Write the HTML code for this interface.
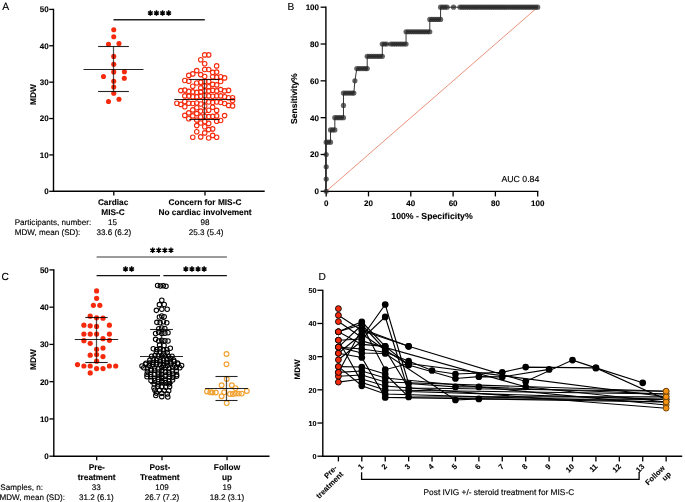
<!DOCTYPE html>
<html><head><meta charset="utf-8"><style>
html,body{margin:0;padding:0;background:#fff;}
body{width:685px;height:502px;overflow:hidden;}
svg{display:block;font-family:"Liberation Sans", sans-serif;will-change:transform;text-rendering:geometricPrecision;}
</style></head><body>
<svg width="685" height="502" viewBox="0 0 685 502">
<rect width="685" height="502" fill="#fff"/>
<text x="2.20" y="10.40" font-size="10.4" font-weight="normal" text-anchor="start" fill="#000" stroke="#000" stroke-width="0.14" >A</text>
<line x1="53.50" y1="8.80" x2="53.50" y2="192.00" stroke="#000" stroke-width="1.4" />
<line x1="49.20" y1="191.30" x2="53.50" y2="191.30" stroke="#000" stroke-width="1.3" />
<text x="48.60" y="194.15" font-size="8" font-weight="bold" text-anchor="end" fill="#000" stroke="#000" stroke-width="0.1" >0</text>
<line x1="49.20" y1="154.92" x2="53.50" y2="154.92" stroke="#000" stroke-width="1.3" />
<text x="48.60" y="157.77" font-size="8" font-weight="bold" text-anchor="end" fill="#000" stroke="#000" stroke-width="0.1" >10</text>
<line x1="49.20" y1="118.54" x2="53.50" y2="118.54" stroke="#000" stroke-width="1.3" />
<text x="48.60" y="121.39" font-size="8" font-weight="bold" text-anchor="end" fill="#000" stroke="#000" stroke-width="0.1" >20</text>
<line x1="49.20" y1="82.16" x2="53.50" y2="82.16" stroke="#000" stroke-width="1.3" />
<text x="48.60" y="85.01" font-size="8" font-weight="bold" text-anchor="end" fill="#000" stroke="#000" stroke-width="0.1" >30</text>
<line x1="49.20" y1="45.78" x2="53.50" y2="45.78" stroke="#000" stroke-width="1.3" />
<text x="48.60" y="48.63" font-size="8" font-weight="bold" text-anchor="end" fill="#000" stroke="#000" stroke-width="0.1" >40</text>
<line x1="49.20" y1="9.40" x2="53.50" y2="9.40" stroke="#000" stroke-width="1.3" />
<text x="48.60" y="12.25" font-size="8" font-weight="bold" text-anchor="end" fill="#000" stroke="#000" stroke-width="0.1" >50</text>
<line x1="52.80" y1="191.30" x2="264.70" y2="191.30" stroke="#000" stroke-width="1.4" />
<line x1="113.80" y1="191.30" x2="113.80" y2="195.40" stroke="#000" stroke-width="1.3" />
<line x1="205.00" y1="191.30" x2="205.00" y2="195.40" stroke="#000" stroke-width="1.3" />
<text x="0.00" y="0.00" font-size="8.3" font-weight="bold" text-anchor="middle" fill="#000" stroke="#000" stroke-width="0.1" transform="translate(36.1,94.6) rotate(-90)">MDW</text>
<text x="113.10" y="204.80" font-size="8.3" font-weight="bold" text-anchor="middle" fill="#000" stroke="#000" stroke-width="0.1" >Cardiac</text>
<text x="113.10" y="215.10" font-size="8.3" font-weight="bold" text-anchor="middle" fill="#000" stroke="#000" stroke-width="0.1" >MIS-C</text>
<text x="205.00" y="204.80" font-size="8.3" font-weight="bold" text-anchor="middle" fill="#000" stroke="#000" stroke-width="0.1" >Concern for MIS-C</text>
<text x="205.00" y="215.10" font-size="8.3" font-weight="bold" text-anchor="middle" fill="#000" stroke="#000" stroke-width="0.1" >No cardiac involvement</text>
<text x="14.70" y="224.60" font-size="8.1" font-weight="normal" text-anchor="start" fill="#000" stroke="#000" stroke-width="0.14" >Participants, number:</text>
<text x="14.70" y="235.00" font-size="8.1" font-weight="normal" text-anchor="start" fill="#000" stroke="#000" stroke-width="0.14" >MDW, mean (SD):</text>
<text x="112.40" y="224.60" font-size="8.1" font-weight="normal" text-anchor="middle" fill="#000" stroke="#000" stroke-width="0.14" >15</text>
<text x="113.80" y="235.00" font-size="8.1" font-weight="normal" text-anchor="middle" fill="#000" stroke="#000" stroke-width="0.14" >33.6 (6.2)</text>
<text x="205.00" y="224.60" font-size="8.1" font-weight="normal" text-anchor="middle" fill="#000" stroke="#000" stroke-width="0.14" >98</text>
<text x="206.20" y="235.00" font-size="8.1" font-weight="normal" text-anchor="middle" fill="#000" stroke="#000" stroke-width="0.14" >25.3 (5.4)</text>
<line x1="113.50" y1="19.80" x2="204.80" y2="19.80" stroke="#222" stroke-width="1.4" />
<path d="M150.35,15.65L150.35,10.15M147.97,14.28L152.73,11.53M147.97,11.53L152.73,14.28M156.45,15.65L156.45,10.15M154.07,14.28L158.83,11.53M154.07,11.53L158.83,14.28M162.55,15.65L162.55,10.15M160.17,14.28L164.93,11.53M160.17,11.53L164.93,14.28M168.65,15.65L168.65,10.15M166.27,14.28L171.03,11.53M166.27,11.53L171.03,14.28" stroke="#000" stroke-width="1.45" stroke-linecap="butt" fill="none"/>
<circle cx="150.35" cy="12.90" r="1.25" fill="#000"/>
<circle cx="156.45" cy="12.90" r="1.25" fill="#000"/>
<circle cx="162.55" cy="12.90" r="1.25" fill="#000"/>
<circle cx="168.65" cy="12.90" r="1.25" fill="#000"/>
<circle cx="113.75" cy="29.80" r="2.55" fill="#f52a0c"/>
<circle cx="113.75" cy="36.80" r="2.55" fill="#f52a0c"/>
<circle cx="108.50" cy="44.30" r="2.55" fill="#f52a0c"/>
<circle cx="119.00" cy="43.60" r="2.55" fill="#f52a0c"/>
<circle cx="113.75" cy="56.40" r="2.55" fill="#f52a0c"/>
<circle cx="113.75" cy="64.30" r="2.55" fill="#f52a0c"/>
<circle cx="113.75" cy="71.90" r="2.55" fill="#f52a0c"/>
<circle cx="124.40" cy="71.80" r="2.55" fill="#f52a0c"/>
<circle cx="103.50" cy="76.50" r="2.55" fill="#f52a0c"/>
<circle cx="124.30" cy="78.20" r="2.55" fill="#f52a0c"/>
<circle cx="113.75" cy="81.30" r="2.55" fill="#f52a0c"/>
<circle cx="113.75" cy="87.00" r="2.55" fill="#f52a0c"/>
<circle cx="113.75" cy="93.20" r="2.55" fill="#f52a0c"/>
<circle cx="108.50" cy="101.50" r="2.55" fill="#f52a0c"/>
<circle cx="119.00" cy="99.30" r="2.55" fill="#f52a0c"/>
<circle cx="204.70" cy="54.90" r="2.25" fill="none" stroke="#f52a0c" stroke-width="1.1"/>
<circle cx="208.68" cy="54.90" r="2.25" fill="none" stroke="#f52a0c" stroke-width="1.1"/>
<circle cx="200.72" cy="59.70" r="2.25" fill="none" stroke="#f52a0c" stroke-width="1.1"/>
<circle cx="204.70" cy="63.70" r="2.25" fill="none" stroke="#f52a0c" stroke-width="1.1"/>
<circle cx="216.64" cy="65.90" r="2.25" fill="none" stroke="#f52a0c" stroke-width="1.1"/>
<circle cx="204.70" cy="69.50" r="2.25" fill="none" stroke="#f52a0c" stroke-width="1.1"/>
<circle cx="208.68" cy="69.50" r="2.25" fill="none" stroke="#f52a0c" stroke-width="1.1"/>
<circle cx="196.74" cy="70.60" r="2.25" fill="none" stroke="#f52a0c" stroke-width="1.1"/>
<circle cx="192.76" cy="73.90" r="2.25" fill="none" stroke="#f52a0c" stroke-width="1.1"/>
<circle cx="188.78" cy="75.40" r="2.25" fill="none" stroke="#f52a0c" stroke-width="1.1"/>
<circle cx="200.72" cy="74.60" r="2.25" fill="none" stroke="#f52a0c" stroke-width="1.1"/>
<circle cx="212.66" cy="72.40" r="2.25" fill="none" stroke="#f52a0c" stroke-width="1.1"/>
<circle cx="216.64" cy="72.10" r="2.25" fill="none" stroke="#f52a0c" stroke-width="1.1"/>
<circle cx="212.66" cy="76.80" r="2.25" fill="none" stroke="#f52a0c" stroke-width="1.1"/>
<circle cx="216.64" cy="77.20" r="2.25" fill="none" stroke="#f52a0c" stroke-width="1.1"/>
<circle cx="224.60" cy="77.90" r="2.25" fill="none" stroke="#f52a0c" stroke-width="1.1"/>
<circle cx="184.80" cy="80.50" r="2.25" fill="none" stroke="#f52a0c" stroke-width="1.1"/>
<circle cx="188.78" cy="81.20" r="2.25" fill="none" stroke="#f52a0c" stroke-width="1.1"/>
<circle cx="196.74" cy="83.00" r="2.25" fill="none" stroke="#f52a0c" stroke-width="1.1"/>
<circle cx="200.72" cy="82.20" r="2.25" fill="none" stroke="#f52a0c" stroke-width="1.1"/>
<circle cx="192.76" cy="86.20" r="2.25" fill="none" stroke="#f52a0c" stroke-width="1.1"/>
<circle cx="200.72" cy="87.90" r="2.25" fill="none" stroke="#f52a0c" stroke-width="1.1"/>
<circle cx="180.82" cy="90.60" r="2.25" fill="none" stroke="#f52a0c" stroke-width="1.1"/>
<circle cx="184.80" cy="90.10" r="2.25" fill="none" stroke="#f52a0c" stroke-width="1.1"/>
<circle cx="188.78" cy="91.40" r="2.25" fill="none" stroke="#f52a0c" stroke-width="1.1"/>
<circle cx="192.76" cy="91.90" r="2.25" fill="none" stroke="#f52a0c" stroke-width="1.1"/>
<circle cx="196.74" cy="92.40" r="2.25" fill="none" stroke="#f52a0c" stroke-width="1.1"/>
<circle cx="200.72" cy="91.90" r="2.25" fill="none" stroke="#f52a0c" stroke-width="1.1"/>
<circle cx="184.80" cy="95.90" r="2.25" fill="none" stroke="#f52a0c" stroke-width="1.1"/>
<circle cx="188.78" cy="96.10" r="2.25" fill="none" stroke="#f52a0c" stroke-width="1.1"/>
<circle cx="192.76" cy="96.80" r="2.25" fill="none" stroke="#f52a0c" stroke-width="1.1"/>
<circle cx="196.74" cy="96.80" r="2.25" fill="none" stroke="#f52a0c" stroke-width="1.1"/>
<circle cx="200.72" cy="96.30" r="2.25" fill="none" stroke="#f52a0c" stroke-width="1.1"/>
<circle cx="220.62" cy="76.70" r="2.25" fill="none" stroke="#f52a0c" stroke-width="1.1"/>
<circle cx="208.68" cy="81.50" r="2.25" fill="none" stroke="#f52a0c" stroke-width="1.1"/>
<circle cx="212.66" cy="84.40" r="2.25" fill="none" stroke="#f52a0c" stroke-width="1.1"/>
<circle cx="216.64" cy="84.90" r="2.25" fill="none" stroke="#f52a0c" stroke-width="1.1"/>
<circle cx="220.62" cy="81.50" r="2.25" fill="none" stroke="#f52a0c" stroke-width="1.1"/>
<circle cx="208.68" cy="86.70" r="2.25" fill="none" stroke="#f52a0c" stroke-width="1.1"/>
<circle cx="212.66" cy="90.40" r="2.25" fill="none" stroke="#f52a0c" stroke-width="1.1"/>
<circle cx="216.64" cy="90.90" r="2.25" fill="none" stroke="#f52a0c" stroke-width="1.1"/>
<circle cx="220.62" cy="89.60" r="2.25" fill="none" stroke="#f52a0c" stroke-width="1.1"/>
<circle cx="224.60" cy="90.90" r="2.25" fill="none" stroke="#f52a0c" stroke-width="1.1"/>
<circle cx="228.58" cy="90.40" r="2.25" fill="none" stroke="#f52a0c" stroke-width="1.1"/>
<circle cx="208.68" cy="90.90" r="2.25" fill="none" stroke="#f52a0c" stroke-width="1.1"/>
<circle cx="204.70" cy="90.90" r="2.25" fill="none" stroke="#f52a0c" stroke-width="1.1"/>
<circle cx="208.68" cy="95.90" r="2.25" fill="none" stroke="#f52a0c" stroke-width="1.1"/>
<circle cx="212.66" cy="96.30" r="2.25" fill="none" stroke="#f52a0c" stroke-width="1.1"/>
<circle cx="216.64" cy="95.90" r="2.25" fill="none" stroke="#f52a0c" stroke-width="1.1"/>
<circle cx="220.62" cy="95.90" r="2.25" fill="none" stroke="#f52a0c" stroke-width="1.1"/>
<circle cx="224.60" cy="96.80" r="2.25" fill="none" stroke="#f52a0c" stroke-width="1.1"/>
<circle cx="228.58" cy="97.80" r="2.25" fill="none" stroke="#f52a0c" stroke-width="1.1"/>
<circle cx="232.56" cy="97.80" r="2.25" fill="none" stroke="#f52a0c" stroke-width="1.1"/>
<circle cx="176.84" cy="103.20" r="2.25" fill="none" stroke="#f52a0c" stroke-width="1.1"/>
<circle cx="180.82" cy="104.40" r="2.25" fill="none" stroke="#f52a0c" stroke-width="1.1"/>
<circle cx="184.80" cy="101.50" r="2.25" fill="none" stroke="#f52a0c" stroke-width="1.1"/>
<circle cx="188.78" cy="103.20" r="2.25" fill="none" stroke="#f52a0c" stroke-width="1.1"/>
<circle cx="192.76" cy="103.50" r="2.25" fill="none" stroke="#f52a0c" stroke-width="1.1"/>
<circle cx="196.74" cy="103.00" r="2.25" fill="none" stroke="#f52a0c" stroke-width="1.1"/>
<circle cx="200.72" cy="104.00" r="2.25" fill="none" stroke="#f52a0c" stroke-width="1.1"/>
<circle cx="184.80" cy="106.70" r="2.25" fill="none" stroke="#f52a0c" stroke-width="1.1"/>
<circle cx="192.76" cy="109.90" r="2.25" fill="none" stroke="#f52a0c" stroke-width="1.1"/>
<circle cx="196.74" cy="107.70" r="2.25" fill="none" stroke="#f52a0c" stroke-width="1.1"/>
<circle cx="200.72" cy="111.10" r="2.25" fill="none" stroke="#f52a0c" stroke-width="1.1"/>
<circle cx="188.78" cy="112.90" r="2.25" fill="none" stroke="#f52a0c" stroke-width="1.1"/>
<circle cx="184.80" cy="115.40" r="2.25" fill="none" stroke="#f52a0c" stroke-width="1.1"/>
<circle cx="192.76" cy="115.90" r="2.25" fill="none" stroke="#f52a0c" stroke-width="1.1"/>
<circle cx="196.74" cy="113.60" r="2.25" fill="none" stroke="#f52a0c" stroke-width="1.1"/>
<circle cx="200.72" cy="116.90" r="2.25" fill="none" stroke="#f52a0c" stroke-width="1.1"/>
<circle cx="188.78" cy="118.80" r="2.25" fill="none" stroke="#f52a0c" stroke-width="1.1"/>
<circle cx="208.68" cy="102.00" r="2.25" fill="none" stroke="#f52a0c" stroke-width="1.1"/>
<circle cx="212.66" cy="102.50" r="2.25" fill="none" stroke="#f52a0c" stroke-width="1.1"/>
<circle cx="216.64" cy="102.00" r="2.25" fill="none" stroke="#f52a0c" stroke-width="1.1"/>
<circle cx="220.62" cy="102.50" r="2.25" fill="none" stroke="#f52a0c" stroke-width="1.1"/>
<circle cx="224.60" cy="103.50" r="2.25" fill="none" stroke="#f52a0c" stroke-width="1.1"/>
<circle cx="228.58" cy="105.40" r="2.25" fill="none" stroke="#f52a0c" stroke-width="1.1"/>
<circle cx="232.56" cy="105.90" r="2.25" fill="none" stroke="#f52a0c" stroke-width="1.1"/>
<circle cx="232.56" cy="100.50" r="2.25" fill="none" stroke="#f52a0c" stroke-width="1.1"/>
<circle cx="212.66" cy="107.20" r="2.25" fill="none" stroke="#f52a0c" stroke-width="1.1"/>
<circle cx="208.68" cy="110.20" r="2.25" fill="none" stroke="#f52a0c" stroke-width="1.1"/>
<circle cx="216.64" cy="110.40" r="2.25" fill="none" stroke="#f52a0c" stroke-width="1.1"/>
<circle cx="208.68" cy="116.60" r="2.25" fill="none" stroke="#f52a0c" stroke-width="1.1"/>
<circle cx="212.66" cy="116.40" r="2.25" fill="none" stroke="#f52a0c" stroke-width="1.1"/>
<circle cx="216.64" cy="115.90" r="2.25" fill="none" stroke="#f52a0c" stroke-width="1.1"/>
<circle cx="224.60" cy="115.60" r="2.25" fill="none" stroke="#f52a0c" stroke-width="1.1"/>
<circle cx="196.74" cy="120.10" r="2.25" fill="none" stroke="#f52a0c" stroke-width="1.1"/>
<circle cx="216.64" cy="121.20" r="2.25" fill="none" stroke="#f52a0c" stroke-width="1.1"/>
<circle cx="220.62" cy="120.50" r="2.25" fill="none" stroke="#f52a0c" stroke-width="1.1"/>
<circle cx="200.72" cy="123.00" r="2.25" fill="none" stroke="#f52a0c" stroke-width="1.1"/>
<circle cx="208.68" cy="123.40" r="2.25" fill="none" stroke="#f52a0c" stroke-width="1.1"/>
<circle cx="196.74" cy="125.60" r="2.25" fill="none" stroke="#f52a0c" stroke-width="1.1"/>
<circle cx="204.70" cy="126.70" r="2.25" fill="none" stroke="#f52a0c" stroke-width="1.1"/>
<circle cx="208.68" cy="129.60" r="2.25" fill="none" stroke="#f52a0c" stroke-width="1.1"/>
<circle cx="212.66" cy="128.90" r="2.25" fill="none" stroke="#f52a0c" stroke-width="1.1"/>
<circle cx="196.74" cy="131.80" r="2.25" fill="none" stroke="#f52a0c" stroke-width="1.1"/>
<circle cx="204.70" cy="132.90" r="2.25" fill="none" stroke="#f52a0c" stroke-width="1.1"/>
<circle cx="212.66" cy="135.40" r="2.25" fill="none" stroke="#f52a0c" stroke-width="1.1"/>
<circle cx="192.76" cy="137.30" r="2.25" fill="none" stroke="#f52a0c" stroke-width="1.1"/>
<circle cx="200.72" cy="136.90" r="2.25" fill="none" stroke="#f52a0c" stroke-width="1.1"/>
<circle cx="208.68" cy="138.00" r="2.25" fill="none" stroke="#f52a0c" stroke-width="1.1"/>
<circle cx="216.64" cy="137.30" r="2.25" fill="none" stroke="#f52a0c" stroke-width="1.1"/>
<circle cx="204.70" cy="76.50" r="2.25" fill="none" stroke="#f52a0c" stroke-width="1.1"/>
<circle cx="204.70" cy="81.50" r="2.25" fill="none" stroke="#f52a0c" stroke-width="1.1"/>
<circle cx="204.70" cy="86.00" r="2.25" fill="none" stroke="#f52a0c" stroke-width="1.1"/>
<circle cx="204.70" cy="95.80" r="2.25" fill="none" stroke="#f52a0c" stroke-width="1.1"/>
<circle cx="204.70" cy="101.00" r="2.25" fill="none" stroke="#f52a0c" stroke-width="1.1"/>
<circle cx="204.70" cy="106.00" r="2.25" fill="none" stroke="#f52a0c" stroke-width="1.1"/>
<circle cx="204.70" cy="111.00" r="2.25" fill="none" stroke="#f52a0c" stroke-width="1.1"/>
<circle cx="204.70" cy="116.30" r="2.25" fill="none" stroke="#f52a0c" stroke-width="1.1"/>
<circle cx="204.70" cy="121.50" r="2.25" fill="none" stroke="#f52a0c" stroke-width="1.1"/>
<line x1="113.50" y1="46.50" x2="113.50" y2="91.50" stroke="rgba(0,0,0,0.68)" stroke-width="1.25" />
<line x1="83.50" y1="69.50" x2="143.50" y2="69.50" stroke="rgba(0,0,0,0.85)" stroke-width="1.1" />
<line x1="98.10" y1="46.50" x2="128.90" y2="46.50" stroke="rgba(0,0,0,0.85)" stroke-width="1.1" />
<line x1="98.10" y1="91.50" x2="128.90" y2="91.50" stroke="rgba(0,0,0,0.85)" stroke-width="1.1" />
<line x1="204.50" y1="79.50" x2="204.50" y2="119.50" stroke="rgba(0,0,0,0.68)" stroke-width="1.25" />
<line x1="174.30" y1="99.50" x2="234.70" y2="99.50" stroke="rgba(0,0,0,0.85)" stroke-width="1.1" />
<line x1="189.30" y1="79.50" x2="219.70" y2="79.50" stroke="rgba(0,0,0,0.85)" stroke-width="1.1" />
<line x1="189.30" y1="119.50" x2="219.70" y2="119.50" stroke="rgba(0,0,0,0.85)" stroke-width="1.1" />
<text x="287.40" y="10.00" font-size="10.2" font-weight="normal" text-anchor="start" fill="#000" stroke="#000" stroke-width="0.14" >B</text>
<line x1="325.90" y1="6.60" x2="325.90" y2="192.00" stroke="#000" stroke-width="1.4" />
<line x1="320.60" y1="191.30" x2="325.90" y2="191.30" stroke="#000" stroke-width="1.3" />
<text x="319.00" y="194.15" font-size="8" font-weight="bold" text-anchor="end" fill="#000" stroke="#000" stroke-width="0.1" >0</text>
<line x1="320.60" y1="154.48" x2="325.90" y2="154.48" stroke="#000" stroke-width="1.3" />
<text x="319.00" y="157.33" font-size="8" font-weight="bold" text-anchor="end" fill="#000" stroke="#000" stroke-width="0.1" >20</text>
<line x1="320.60" y1="117.66" x2="325.90" y2="117.66" stroke="#000" stroke-width="1.3" />
<text x="319.00" y="120.51" font-size="8" font-weight="bold" text-anchor="end" fill="#000" stroke="#000" stroke-width="0.1" >40</text>
<line x1="320.60" y1="80.84" x2="325.90" y2="80.84" stroke="#000" stroke-width="1.3" />
<text x="319.00" y="83.69" font-size="8" font-weight="bold" text-anchor="end" fill="#000" stroke="#000" stroke-width="0.1" >60</text>
<line x1="320.60" y1="44.02" x2="325.90" y2="44.02" stroke="#000" stroke-width="1.3" />
<text x="319.00" y="46.87" font-size="8" font-weight="bold" text-anchor="end" fill="#000" stroke="#000" stroke-width="0.1" >80</text>
<line x1="320.60" y1="7.20" x2="325.90" y2="7.20" stroke="#000" stroke-width="1.3" />
<text x="319.00" y="10.05" font-size="8" font-weight="bold" text-anchor="end" fill="#000" stroke="#000" stroke-width="0.1" >100</text>
<line x1="325.20" y1="191.40" x2="538.40" y2="191.40" stroke="#000" stroke-width="1.4" />
<line x1="326.20" y1="191.40" x2="326.20" y2="196.40" stroke="#000" stroke-width="1.3" />
<text x="326.20" y="206.00" font-size="8" font-weight="bold" text-anchor="middle" fill="#000" stroke="#000" stroke-width="0.1" >0</text>
<line x1="368.50" y1="191.40" x2="368.50" y2="196.40" stroke="#000" stroke-width="1.3" />
<text x="368.50" y="206.00" font-size="8" font-weight="bold" text-anchor="middle" fill="#000" stroke="#000" stroke-width="0.1" >20</text>
<line x1="410.80" y1="191.40" x2="410.80" y2="196.40" stroke="#000" stroke-width="1.3" />
<text x="410.80" y="206.00" font-size="8" font-weight="bold" text-anchor="middle" fill="#000" stroke="#000" stroke-width="0.1" >40</text>
<line x1="453.10" y1="191.40" x2="453.10" y2="196.40" stroke="#000" stroke-width="1.3" />
<text x="453.10" y="206.00" font-size="8" font-weight="bold" text-anchor="middle" fill="#000" stroke="#000" stroke-width="0.1" >60</text>
<line x1="495.40" y1="191.40" x2="495.40" y2="196.40" stroke="#000" stroke-width="1.3" />
<text x="495.40" y="206.00" font-size="8" font-weight="bold" text-anchor="middle" fill="#000" stroke="#000" stroke-width="0.1" >80</text>
<line x1="537.70" y1="191.40" x2="537.70" y2="196.40" stroke="#000" stroke-width="1.3" />
<text x="537.70" y="206.00" font-size="8" font-weight="bold" text-anchor="middle" fill="#000" stroke="#000" stroke-width="0.1" >100</text>
<text x="432.00" y="218.60" font-size="8.72" font-weight="bold" text-anchor="middle" fill="#000" stroke="#000" stroke-width="0.1" >100% - Specificity%</text>
<text x="0.00" y="0.00" font-size="8.6" font-weight="bold" text-anchor="middle" fill="#000" stroke="#000" stroke-width="0.1" transform="translate(296.8,98.6) rotate(-90)">Sensitivity%</text>
<text x="501.40" y="182.20" font-size="8.75" font-weight="normal" text-anchor="start" fill="#000" stroke="#000" stroke-width="0.14" >AUC 0.84</text>
<line x1="326.20" y1="191.30" x2="537.70" y2="7.20" stroke="#e8846c" stroke-width="0.9" />
<path d="M326.20,191.30 L326.20,179.03 L326.20,166.75 L326.20,154.48 L326.20,142.21 L330.52,142.21 L330.52,129.93 L334.83,129.93 L334.83,117.66 L343.47,117.66 L343.47,105.39 L343.47,93.11 L353.82,93.11 L354.90,80.84 L356.85,68.57 L367.21,68.57 L367.21,56.29 L382.31,56.29 L382.31,44.02 L406.05,44.02 L406.05,31.75 L429.79,31.75 L429.79,19.47 L440.58,19.47 L440.58,7.20 L537.70,7.20" fill="none" stroke="#333" stroke-width="1.0"/>
<circle cx="326.20" cy="191.30" r="2.6" fill="rgba(40,40,40,0.72)"/>
<circle cx="326.20" cy="179.03" r="2.6" fill="rgba(40,40,40,0.72)"/>
<circle cx="326.20" cy="166.75" r="2.6" fill="rgba(40,40,40,0.72)"/>
<circle cx="326.20" cy="154.48" r="2.6" fill="rgba(40,40,40,0.72)"/>
<circle cx="326.20" cy="142.21" r="2.6" fill="rgba(40,40,40,0.72)"/>
<circle cx="328.36" cy="142.21" r="2.6" fill="rgba(40,40,40,0.72)"/>
<circle cx="330.52" cy="142.21" r="2.6" fill="rgba(40,40,40,0.72)"/>
<circle cx="330.52" cy="129.93" r="2.6" fill="rgba(40,40,40,0.72)"/>
<circle cx="332.67" cy="129.93" r="2.6" fill="rgba(40,40,40,0.72)"/>
<circle cx="334.83" cy="129.93" r="2.6" fill="rgba(40,40,40,0.72)"/>
<circle cx="334.83" cy="117.66" r="2.6" fill="rgba(40,40,40,0.72)"/>
<circle cx="336.99" cy="117.66" r="2.6" fill="rgba(40,40,40,0.72)"/>
<circle cx="339.15" cy="117.66" r="2.6" fill="rgba(40,40,40,0.72)"/>
<circle cx="341.31" cy="117.66" r="2.6" fill="rgba(40,40,40,0.72)"/>
<circle cx="343.47" cy="117.66" r="2.6" fill="rgba(40,40,40,0.72)"/>
<circle cx="343.47" cy="105.39" r="2.6" fill="rgba(40,40,40,0.72)"/>
<circle cx="343.47" cy="93.11" r="2.6" fill="rgba(40,40,40,0.72)"/>
<circle cx="345.62" cy="93.11" r="2.6" fill="rgba(40,40,40,0.72)"/>
<circle cx="347.78" cy="93.11" r="2.6" fill="rgba(40,40,40,0.72)"/>
<circle cx="349.94" cy="93.11" r="2.6" fill="rgba(40,40,40,0.72)"/>
<circle cx="352.10" cy="93.11" r="2.6" fill="rgba(40,40,40,0.72)"/>
<circle cx="353.82" cy="93.11" r="2.6" fill="rgba(40,40,40,0.72)"/>
<circle cx="354.90" cy="80.84" r="2.6" fill="rgba(40,40,40,0.72)"/>
<circle cx="356.85" cy="68.57" r="2.6" fill="rgba(40,40,40,0.72)"/>
<circle cx="359.00" cy="68.57" r="2.6" fill="rgba(40,40,40,0.72)"/>
<circle cx="361.16" cy="68.57" r="2.6" fill="rgba(40,40,40,0.72)"/>
<circle cx="363.32" cy="68.57" r="2.6" fill="rgba(40,40,40,0.72)"/>
<circle cx="365.48" cy="68.57" r="2.6" fill="rgba(40,40,40,0.72)"/>
<circle cx="367.21" cy="68.57" r="2.6" fill="rgba(40,40,40,0.72)"/>
<circle cx="367.21" cy="56.29" r="2.6" fill="rgba(40,40,40,0.72)"/>
<circle cx="369.36" cy="56.29" r="2.6" fill="rgba(40,40,40,0.72)"/>
<circle cx="371.52" cy="56.29" r="2.6" fill="rgba(40,40,40,0.72)"/>
<circle cx="373.68" cy="56.29" r="2.6" fill="rgba(40,40,40,0.72)"/>
<circle cx="375.84" cy="56.29" r="2.6" fill="rgba(40,40,40,0.72)"/>
<circle cx="378.00" cy="56.29" r="2.6" fill="rgba(40,40,40,0.72)"/>
<circle cx="380.15" cy="56.29" r="2.6" fill="rgba(40,40,40,0.72)"/>
<circle cx="382.31" cy="56.29" r="2.6" fill="rgba(40,40,40,0.72)"/>
<circle cx="382.31" cy="44.02" r="2.6" fill="rgba(40,40,40,0.72)"/>
<circle cx="384.47" cy="44.02" r="2.6" fill="rgba(40,40,40,0.72)"/>
<circle cx="386.63" cy="44.02" r="2.6" fill="rgba(40,40,40,0.72)"/>
<circle cx="390.94" cy="44.02" r="2.6" fill="rgba(40,40,40,0.72)"/>
<circle cx="393.10" cy="44.02" r="2.6" fill="rgba(40,40,40,0.72)"/>
<circle cx="395.26" cy="44.02" r="2.6" fill="rgba(40,40,40,0.72)"/>
<circle cx="397.42" cy="44.02" r="2.6" fill="rgba(40,40,40,0.72)"/>
<circle cx="399.58" cy="44.02" r="2.6" fill="rgba(40,40,40,0.72)"/>
<circle cx="401.74" cy="44.02" r="2.6" fill="rgba(40,40,40,0.72)"/>
<circle cx="403.89" cy="44.02" r="2.6" fill="rgba(40,40,40,0.72)"/>
<circle cx="406.05" cy="44.02" r="2.6" fill="rgba(40,40,40,0.72)"/>
<circle cx="406.05" cy="31.75" r="2.6" fill="rgba(40,40,40,0.72)"/>
<circle cx="408.21" cy="31.75" r="2.6" fill="rgba(40,40,40,0.72)"/>
<circle cx="410.37" cy="31.75" r="2.6" fill="rgba(40,40,40,0.72)"/>
<circle cx="412.53" cy="31.75" r="2.6" fill="rgba(40,40,40,0.72)"/>
<circle cx="414.68" cy="31.75" r="2.6" fill="rgba(40,40,40,0.72)"/>
<circle cx="416.84" cy="31.75" r="2.6" fill="rgba(40,40,40,0.72)"/>
<circle cx="419.00" cy="31.75" r="2.6" fill="rgba(40,40,40,0.72)"/>
<circle cx="421.16" cy="31.75" r="2.6" fill="rgba(40,40,40,0.72)"/>
<circle cx="423.32" cy="31.75" r="2.6" fill="rgba(40,40,40,0.72)"/>
<circle cx="425.48" cy="31.75" r="2.6" fill="rgba(40,40,40,0.72)"/>
<circle cx="427.63" cy="31.75" r="2.6" fill="rgba(40,40,40,0.72)"/>
<circle cx="429.79" cy="31.75" r="2.6" fill="rgba(40,40,40,0.72)"/>
<circle cx="429.79" cy="19.47" r="2.6" fill="rgba(40,40,40,0.72)"/>
<circle cx="431.95" cy="19.47" r="2.6" fill="rgba(40,40,40,0.72)"/>
<circle cx="434.11" cy="19.47" r="2.6" fill="rgba(40,40,40,0.72)"/>
<circle cx="436.27" cy="19.47" r="2.6" fill="rgba(40,40,40,0.72)"/>
<circle cx="438.42" cy="19.47" r="2.6" fill="rgba(40,40,40,0.72)"/>
<circle cx="440.58" cy="19.47" r="2.6" fill="rgba(40,40,40,0.72)"/>
<circle cx="440.58" cy="7.20" r="2.6" fill="rgba(40,40,40,0.72)"/>
<circle cx="442.74" cy="7.20" r="2.6" fill="rgba(40,40,40,0.72)"/>
<circle cx="444.90" cy="7.20" r="2.6" fill="rgba(40,40,40,0.72)"/>
<circle cx="447.06" cy="7.20" r="2.6" fill="rgba(40,40,40,0.72)"/>
<circle cx="453.53" cy="7.20" r="2.6" fill="rgba(40,40,40,0.72)"/>
<circle cx="460.01" cy="7.20" r="2.6" fill="rgba(40,40,40,0.72)"/>
<circle cx="462.16" cy="7.20" r="2.6" fill="rgba(40,40,40,0.72)"/>
<circle cx="464.32" cy="7.20" r="2.6" fill="rgba(40,40,40,0.72)"/>
<circle cx="466.48" cy="7.20" r="2.6" fill="rgba(40,40,40,0.72)"/>
<circle cx="468.64" cy="7.20" r="2.6" fill="rgba(40,40,40,0.72)"/>
<circle cx="470.80" cy="7.20" r="2.6" fill="rgba(40,40,40,0.72)"/>
<circle cx="472.96" cy="7.20" r="2.6" fill="rgba(40,40,40,0.72)"/>
<circle cx="475.11" cy="7.20" r="2.6" fill="rgba(40,40,40,0.72)"/>
<circle cx="477.27" cy="7.20" r="2.6" fill="rgba(40,40,40,0.72)"/>
<circle cx="479.43" cy="7.20" r="2.6" fill="rgba(40,40,40,0.72)"/>
<circle cx="481.59" cy="7.20" r="2.6" fill="rgba(40,40,40,0.72)"/>
<circle cx="483.75" cy="7.20" r="2.6" fill="rgba(40,40,40,0.72)"/>
<circle cx="485.90" cy="7.20" r="2.6" fill="rgba(40,40,40,0.72)"/>
<circle cx="488.06" cy="7.20" r="2.6" fill="rgba(40,40,40,0.72)"/>
<circle cx="490.22" cy="7.20" r="2.6" fill="rgba(40,40,40,0.72)"/>
<circle cx="492.38" cy="7.20" r="2.6" fill="rgba(40,40,40,0.72)"/>
<circle cx="494.54" cy="7.20" r="2.6" fill="rgba(40,40,40,0.72)"/>
<circle cx="496.69" cy="7.20" r="2.6" fill="rgba(40,40,40,0.72)"/>
<circle cx="498.85" cy="7.20" r="2.6" fill="rgba(40,40,40,0.72)"/>
<circle cx="501.01" cy="7.20" r="2.6" fill="rgba(40,40,40,0.72)"/>
<circle cx="503.17" cy="7.20" r="2.6" fill="rgba(40,40,40,0.72)"/>
<circle cx="505.33" cy="7.20" r="2.6" fill="rgba(40,40,40,0.72)"/>
<circle cx="507.49" cy="7.20" r="2.6" fill="rgba(40,40,40,0.72)"/>
<circle cx="509.64" cy="7.20" r="2.6" fill="rgba(40,40,40,0.72)"/>
<circle cx="511.80" cy="7.20" r="2.6" fill="rgba(40,40,40,0.72)"/>
<circle cx="513.96" cy="7.20" r="2.6" fill="rgba(40,40,40,0.72)"/>
<circle cx="516.12" cy="7.20" r="2.6" fill="rgba(40,40,40,0.72)"/>
<circle cx="518.28" cy="7.20" r="2.6" fill="rgba(40,40,40,0.72)"/>
<circle cx="520.43" cy="7.20" r="2.6" fill="rgba(40,40,40,0.72)"/>
<circle cx="522.59" cy="7.20" r="2.6" fill="rgba(40,40,40,0.72)"/>
<circle cx="524.75" cy="7.20" r="2.6" fill="rgba(40,40,40,0.72)"/>
<circle cx="526.91" cy="7.20" r="2.6" fill="rgba(40,40,40,0.72)"/>
<circle cx="529.07" cy="7.20" r="2.6" fill="rgba(40,40,40,0.72)"/>
<circle cx="531.23" cy="7.20" r="2.6" fill="rgba(40,40,40,0.72)"/>
<circle cx="533.38" cy="7.20" r="2.6" fill="rgba(40,40,40,0.72)"/>
<circle cx="535.54" cy="7.20" r="2.6" fill="rgba(40,40,40,0.72)"/>
<circle cx="537.70" cy="7.20" r="2.6" fill="rgba(40,40,40,0.72)"/>
<text x="1.60" y="280.00" font-size="10.2" font-weight="normal" text-anchor="start" fill="#000" stroke="#000" stroke-width="0.14" >C</text>
<line x1="53.80" y1="269.30" x2="53.80" y2="456.90" stroke="#000" stroke-width="1.4" />
<line x1="49.40" y1="456.20" x2="53.80" y2="456.20" stroke="#000" stroke-width="1.3" />
<text x="48.80" y="459.05" font-size="8" font-weight="bold" text-anchor="end" fill="#000" stroke="#000" stroke-width="0.1" >0</text>
<line x1="49.40" y1="418.94" x2="53.80" y2="418.94" stroke="#000" stroke-width="1.3" />
<text x="48.80" y="421.79" font-size="8" font-weight="bold" text-anchor="end" fill="#000" stroke="#000" stroke-width="0.1" >10</text>
<line x1="49.40" y1="381.68" x2="53.80" y2="381.68" stroke="#000" stroke-width="1.3" />
<text x="48.80" y="384.53" font-size="8" font-weight="bold" text-anchor="end" fill="#000" stroke="#000" stroke-width="0.1" >20</text>
<line x1="49.40" y1="344.42" x2="53.80" y2="344.42" stroke="#000" stroke-width="1.3" />
<text x="48.80" y="347.27" font-size="8" font-weight="bold" text-anchor="end" fill="#000" stroke="#000" stroke-width="0.1" >30</text>
<line x1="49.40" y1="307.16" x2="53.80" y2="307.16" stroke="#000" stroke-width="1.3" />
<text x="48.80" y="310.01" font-size="8" font-weight="bold" text-anchor="end" fill="#000" stroke="#000" stroke-width="0.1" >40</text>
<line x1="49.40" y1="269.90" x2="53.80" y2="269.90" stroke="#000" stroke-width="1.3" />
<text x="48.80" y="272.75" font-size="8" font-weight="bold" text-anchor="end" fill="#000" stroke="#000" stroke-width="0.1" >50</text>
<line x1="53.10" y1="456.20" x2="269.50" y2="456.20" stroke="#000" stroke-width="1.4" />
<line x1="96.70" y1="456.20" x2="96.70" y2="460.30" stroke="#000" stroke-width="1.3" />
<line x1="162.00" y1="456.20" x2="162.00" y2="460.30" stroke="#000" stroke-width="1.3" />
<line x1="227.00" y1="456.20" x2="227.00" y2="460.30" stroke="#000" stroke-width="1.3" />
<text x="0.00" y="0.00" font-size="8.3" font-weight="bold" text-anchor="middle" fill="#000" stroke="#000" stroke-width="0.1" transform="translate(36.0,359.6) rotate(-90)">MDW</text>
<text x="96.70" y="470.30" font-size="8.3" font-weight="bold" text-anchor="middle" fill="#000" stroke="#000" stroke-width="0.1" >Pre-</text>
<text x="96.70" y="479.80" font-size="8.3" font-weight="bold" text-anchor="middle" fill="#000" stroke="#000" stroke-width="0.1" >treatment</text>
<text x="159.80" y="470.30" font-size="8.3" font-weight="bold" text-anchor="middle" fill="#000" stroke="#000" stroke-width="0.1" >Post-</text>
<text x="159.80" y="479.80" font-size="8.3" font-weight="bold" text-anchor="middle" fill="#000" stroke="#000" stroke-width="0.1" >Treatment</text>
<text x="227.00" y="470.30" font-size="8.3" font-weight="bold" text-anchor="middle" fill="#000" stroke="#000" stroke-width="0.1" >Follow</text>
<text x="227.00" y="479.80" font-size="8.3" font-weight="bold" text-anchor="middle" fill="#000" stroke="#000" stroke-width="0.1" >up</text>
<text x="0.30" y="489.90" font-size="8.1" font-weight="normal" text-anchor="start" fill="#000" stroke="#000" stroke-width="0.14" >Samples, n:</text>
<text x="-0.60" y="500.20" font-size="8.1" font-weight="normal" text-anchor="start" fill="#000" stroke="#000" stroke-width="0.14" >MDW, mean (SD):</text>
<text x="96.30" y="489.90" font-size="8.1" font-weight="normal" text-anchor="middle" fill="#000" stroke="#000" stroke-width="0.14" >33</text>
<text x="96.30" y="500.20" font-size="8.1" font-weight="normal" text-anchor="middle" fill="#000" stroke="#000" stroke-width="0.14" >31.2 (6.1)</text>
<text x="162.00" y="489.90" font-size="8.1" font-weight="normal" text-anchor="middle" fill="#000" stroke="#000" stroke-width="0.14" >109</text>
<text x="162.00" y="500.20" font-size="8.1" font-weight="normal" text-anchor="middle" fill="#000" stroke="#000" stroke-width="0.14" >26.7 (7.2)</text>
<text x="227.00" y="489.90" font-size="8.1" font-weight="normal" text-anchor="middle" fill="#000" stroke="#000" stroke-width="0.14" >19</text>
<text x="227.00" y="500.20" font-size="8.1" font-weight="normal" text-anchor="middle" fill="#000" stroke="#000" stroke-width="0.14" >18.2 (3.1)</text>
<line x1="96.60" y1="257.00" x2="226.90" y2="257.00" stroke="#7a7a7a" stroke-width="1.6" />
<path d="M152.65,253.05L152.65,247.55M150.27,251.68L155.03,248.93M150.27,248.93L155.03,251.68M158.75,253.05L158.75,247.55M156.37,251.68L161.13,248.93M156.37,248.93L161.13,251.68M164.85,253.05L164.85,247.55M162.47,251.68L167.23,248.93M162.47,248.93L167.23,251.68M170.95,253.05L170.95,247.55M168.57,251.68L173.33,248.93M168.57,248.93L173.33,251.68" stroke="#000" stroke-width="1.45" stroke-linecap="butt" fill="none"/>
<circle cx="152.65" cy="250.30" r="1.25" fill="#000"/>
<circle cx="158.75" cy="250.30" r="1.25" fill="#000"/>
<circle cx="164.85" cy="250.30" r="1.25" fill="#000"/>
<circle cx="170.95" cy="250.30" r="1.25" fill="#000"/>
<line x1="96.60" y1="275.50" x2="160.00" y2="275.50" stroke="#111" stroke-width="1.25" />
<line x1="163.40" y1="275.50" x2="226.90" y2="275.50" stroke="#111" stroke-width="1.25" />
<path d="M125.55,271.75L125.55,266.25M123.17,270.38L127.93,267.62M123.17,267.62L127.93,270.38M131.65,271.75L131.65,266.25M129.27,270.38L134.03,267.62M129.27,267.62L134.03,270.38" stroke="#000" stroke-width="1.45" stroke-linecap="butt" fill="none"/>
<circle cx="125.55" cy="269.00" r="1.25" fill="#000"/>
<circle cx="131.65" cy="269.00" r="1.25" fill="#000"/>
<path d="M185.85,271.75L185.85,266.25M183.47,270.38L188.23,267.62M183.47,267.62L188.23,270.38M191.95,271.75L191.95,266.25M189.57,270.38L194.33,267.62M189.57,267.62L194.33,270.38M198.05,271.75L198.05,266.25M195.67,270.38L200.43,267.62M195.67,267.62L200.43,270.38M204.15,271.75L204.15,266.25M201.77,270.38L206.53,267.62M201.77,267.62L206.53,270.38" stroke="#000" stroke-width="1.45" stroke-linecap="butt" fill="none"/>
<circle cx="185.85" cy="269.00" r="1.25" fill="#000"/>
<circle cx="191.95" cy="269.00" r="1.25" fill="#000"/>
<circle cx="198.05" cy="269.00" r="1.25" fill="#000"/>
<circle cx="204.15" cy="269.00" r="1.25" fill="#000"/>
<circle cx="96.60" cy="290.90" r="2.6" fill="#f52a0c"/>
<circle cx="96.60" cy="298.30" r="2.6" fill="#f52a0c"/>
<circle cx="93.40" cy="305.30" r="2.6" fill="#f52a0c"/>
<circle cx="99.80" cy="305.30" r="2.6" fill="#f52a0c"/>
<circle cx="90.20" cy="316.20" r="2.6" fill="#f52a0c"/>
<circle cx="96.60" cy="317.80" r="2.6" fill="#f52a0c"/>
<circle cx="103.00" cy="318.20" r="2.6" fill="#f52a0c"/>
<circle cx="83.90" cy="325.20" r="2.6" fill="#f52a0c"/>
<circle cx="90.20" cy="325.80" r="2.6" fill="#f52a0c"/>
<circle cx="96.60" cy="326.40" r="2.6" fill="#f52a0c"/>
<circle cx="109.40" cy="325.20" r="2.6" fill="#f52a0c"/>
<circle cx="83.90" cy="334.10" r="2.6" fill="#f52a0c"/>
<circle cx="90.20" cy="334.10" r="2.6" fill="#f52a0c"/>
<circle cx="96.60" cy="334.10" r="2.6" fill="#f52a0c"/>
<circle cx="109.40" cy="334.10" r="2.6" fill="#f52a0c"/>
<circle cx="83.90" cy="340.70" r="2.6" fill="#f52a0c"/>
<circle cx="103.00" cy="338.70" r="2.6" fill="#f52a0c"/>
<circle cx="109.40" cy="340.30" r="2.6" fill="#f52a0c"/>
<circle cx="90.20" cy="343.30" r="2.6" fill="#f52a0c"/>
<circle cx="96.60" cy="349.30" r="2.6" fill="#f52a0c"/>
<circle cx="103.00" cy="348.10" r="2.6" fill="#f52a0c"/>
<circle cx="90.20" cy="355.20" r="2.6" fill="#f52a0c"/>
<circle cx="96.60" cy="354.60" r="2.6" fill="#f52a0c"/>
<circle cx="103.00" cy="356.60" r="2.6" fill="#f52a0c"/>
<circle cx="96.60" cy="361.20" r="2.6" fill="#f52a0c"/>
<circle cx="77.50" cy="364.60" r="2.6" fill="#f52a0c"/>
<circle cx="83.90" cy="366.00" r="2.6" fill="#f52a0c"/>
<circle cx="90.20" cy="366.00" r="2.6" fill="#f52a0c"/>
<circle cx="109.40" cy="366.00" r="2.6" fill="#f52a0c"/>
<circle cx="115.70" cy="366.00" r="2.6" fill="#f52a0c"/>
<circle cx="96.60" cy="368.60" r="2.6" fill="#f52a0c"/>
<circle cx="103.00" cy="368.60" r="2.6" fill="#f52a0c"/>
<circle cx="90.20" cy="372.90" r="2.6" fill="#f52a0c"/>
<circle cx="157.60" cy="285.48" r="2.25" fill="none" stroke="#000" stroke-width="1.05"/>
<circle cx="160.40" cy="286.09" r="2.25" fill="none" stroke="#000" stroke-width="1.05"/>
<circle cx="163.20" cy="285.74" r="2.25" fill="none" stroke="#000" stroke-width="1.05"/>
<circle cx="166.00" cy="286.21" r="2.25" fill="none" stroke="#000" stroke-width="1.05"/>
<circle cx="161.80" cy="300.15" r="2.25" fill="none" stroke="#000" stroke-width="1.05"/>
<circle cx="159.40" cy="304.63" r="2.25" fill="none" stroke="#000" stroke-width="1.05"/>
<circle cx="164.20" cy="304.53" r="2.25" fill="none" stroke="#000" stroke-width="1.05"/>
<circle cx="156.40" cy="310.37" r="2.25" fill="none" stroke="#000" stroke-width="1.05"/>
<circle cx="161.80" cy="309.22" r="2.25" fill="none" stroke="#000" stroke-width="1.05"/>
<circle cx="167.20" cy="309.17" r="2.25" fill="none" stroke="#000" stroke-width="1.05"/>
<circle cx="159.40" cy="316.99" r="2.25" fill="none" stroke="#000" stroke-width="1.05"/>
<circle cx="161.80" cy="315.94" r="2.25" fill="none" stroke="#000" stroke-width="1.05"/>
<circle cx="164.20" cy="316.67" r="2.25" fill="none" stroke="#000" stroke-width="1.05"/>
<circle cx="156.85" cy="322.35" r="2.25" fill="none" stroke="#000" stroke-width="1.05"/>
<circle cx="160.15" cy="322.68" r="2.25" fill="none" stroke="#000" stroke-width="1.05"/>
<circle cx="163.45" cy="321.70" r="2.25" fill="none" stroke="#000" stroke-width="1.05"/>
<circle cx="166.75" cy="322.67" r="2.25" fill="none" stroke="#000" stroke-width="1.05"/>
<circle cx="158.80" cy="328.74" r="2.25" fill="none" stroke="#000" stroke-width="1.05"/>
<circle cx="161.80" cy="328.05" r="2.25" fill="none" stroke="#000" stroke-width="1.05"/>
<circle cx="164.80" cy="328.48" r="2.25" fill="none" stroke="#000" stroke-width="1.05"/>
<circle cx="155.60" cy="333.44" r="2.25" fill="none" stroke="#000" stroke-width="1.05"/>
<circle cx="158.70" cy="332.23" r="2.25" fill="none" stroke="#000" stroke-width="1.05"/>
<circle cx="161.80" cy="333.62" r="2.25" fill="none" stroke="#000" stroke-width="1.05"/>
<circle cx="164.90" cy="333.28" r="2.25" fill="none" stroke="#000" stroke-width="1.05"/>
<circle cx="168.00" cy="332.70" r="2.25" fill="none" stroke="#000" stroke-width="1.05"/>
<circle cx="155.60" cy="339.36" r="2.25" fill="none" stroke="#000" stroke-width="1.05"/>
<circle cx="158.70" cy="341.03" r="2.25" fill="none" stroke="#000" stroke-width="1.05"/>
<circle cx="161.80" cy="340.25" r="2.25" fill="none" stroke="#000" stroke-width="1.05"/>
<circle cx="164.90" cy="340.74" r="2.25" fill="none" stroke="#000" stroke-width="1.05"/>
<circle cx="168.00" cy="341.06" r="2.25" fill="none" stroke="#000" stroke-width="1.05"/>
<circle cx="159.55" cy="345.03" r="2.25" fill="none" stroke="#000" stroke-width="1.05"/>
<circle cx="164.05" cy="345.44" r="2.25" fill="none" stroke="#000" stroke-width="1.05"/>
<circle cx="153.30" cy="348.79" r="2.25" fill="none" stroke="#000" stroke-width="1.05"/>
<circle cx="156.70" cy="349.60" r="2.25" fill="none" stroke="#000" stroke-width="1.05"/>
<circle cx="160.10" cy="348.89" r="2.25" fill="none" stroke="#000" stroke-width="1.05"/>
<circle cx="163.50" cy="349.87" r="2.25" fill="none" stroke="#000" stroke-width="1.05"/>
<circle cx="166.90" cy="349.76" r="2.25" fill="none" stroke="#000" stroke-width="1.05"/>
<circle cx="170.30" cy="348.19" r="2.25" fill="none" stroke="#000" stroke-width="1.05"/>
<circle cx="156.40" cy="351.87" r="2.25" fill="none" stroke="#000" stroke-width="1.05"/>
<circle cx="160.00" cy="352.03" r="2.25" fill="none" stroke="#000" stroke-width="1.05"/>
<circle cx="163.60" cy="353.53" r="2.25" fill="none" stroke="#000" stroke-width="1.05"/>
<circle cx="167.20" cy="352.47" r="2.25" fill="none" stroke="#000" stroke-width="1.05"/>
<circle cx="151.60" cy="356.25" r="2.25" fill="none" stroke="#000" stroke-width="1.05"/>
<circle cx="155.00" cy="355.60" r="2.25" fill="none" stroke="#000" stroke-width="1.05"/>
<circle cx="158.40" cy="356.01" r="2.25" fill="none" stroke="#000" stroke-width="1.05"/>
<circle cx="161.80" cy="355.77" r="2.25" fill="none" stroke="#000" stroke-width="1.05"/>
<circle cx="165.20" cy="355.70" r="2.25" fill="none" stroke="#000" stroke-width="1.05"/>
<circle cx="168.60" cy="356.17" r="2.25" fill="none" stroke="#000" stroke-width="1.05"/>
<circle cx="172.00" cy="356.17" r="2.25" fill="none" stroke="#000" stroke-width="1.05"/>
<circle cx="149.90" cy="360.11" r="2.25" fill="none" stroke="#000" stroke-width="1.05"/>
<circle cx="153.30" cy="359.66" r="2.25" fill="none" stroke="#000" stroke-width="1.05"/>
<circle cx="156.70" cy="360.16" r="2.25" fill="none" stroke="#000" stroke-width="1.05"/>
<circle cx="160.10" cy="360.01" r="2.25" fill="none" stroke="#000" stroke-width="1.05"/>
<circle cx="163.50" cy="360.28" r="2.25" fill="none" stroke="#000" stroke-width="1.05"/>
<circle cx="166.90" cy="359.64" r="2.25" fill="none" stroke="#000" stroke-width="1.05"/>
<circle cx="170.30" cy="358.63" r="2.25" fill="none" stroke="#000" stroke-width="1.05"/>
<circle cx="173.70" cy="360.02" r="2.25" fill="none" stroke="#000" stroke-width="1.05"/>
<circle cx="146.05" cy="363.23" r="2.25" fill="none" stroke="#000" stroke-width="1.05"/>
<circle cx="149.55" cy="363.11" r="2.25" fill="none" stroke="#000" stroke-width="1.05"/>
<circle cx="153.05" cy="362.44" r="2.25" fill="none" stroke="#000" stroke-width="1.05"/>
<circle cx="156.55" cy="362.73" r="2.25" fill="none" stroke="#000" stroke-width="1.05"/>
<circle cx="160.05" cy="361.72" r="2.25" fill="none" stroke="#000" stroke-width="1.05"/>
<circle cx="163.55" cy="362.96" r="2.25" fill="none" stroke="#000" stroke-width="1.05"/>
<circle cx="167.05" cy="362.45" r="2.25" fill="none" stroke="#000" stroke-width="1.05"/>
<circle cx="170.55" cy="361.87" r="2.25" fill="none" stroke="#000" stroke-width="1.05"/>
<circle cx="174.05" cy="361.43" r="2.25" fill="none" stroke="#000" stroke-width="1.05"/>
<circle cx="177.55" cy="363.01" r="2.25" fill="none" stroke="#000" stroke-width="1.05"/>
<circle cx="142.00" cy="365.98" r="2.25" fill="none" stroke="#000" stroke-width="1.05"/>
<circle cx="145.60" cy="364.18" r="2.25" fill="none" stroke="#000" stroke-width="1.05"/>
<circle cx="149.20" cy="365.60" r="2.25" fill="none" stroke="#000" stroke-width="1.05"/>
<circle cx="152.80" cy="364.82" r="2.25" fill="none" stroke="#000" stroke-width="1.05"/>
<circle cx="156.40" cy="364.30" r="2.25" fill="none" stroke="#000" stroke-width="1.05"/>
<circle cx="160.00" cy="364.59" r="2.25" fill="none" stroke="#000" stroke-width="1.05"/>
<circle cx="163.60" cy="365.54" r="2.25" fill="none" stroke="#000" stroke-width="1.05"/>
<circle cx="167.20" cy="365.75" r="2.25" fill="none" stroke="#000" stroke-width="1.05"/>
<circle cx="170.80" cy="364.09" r="2.25" fill="none" stroke="#000" stroke-width="1.05"/>
<circle cx="174.40" cy="365.23" r="2.25" fill="none" stroke="#000" stroke-width="1.05"/>
<circle cx="178.00" cy="364.09" r="2.25" fill="none" stroke="#000" stroke-width="1.05"/>
<circle cx="181.60" cy="365.44" r="2.25" fill="none" stroke="#000" stroke-width="1.05"/>
<circle cx="143.80" cy="367.66" r="2.25" fill="none" stroke="#000" stroke-width="1.05"/>
<circle cx="147.40" cy="368.76" r="2.25" fill="none" stroke="#000" stroke-width="1.05"/>
<circle cx="151.00" cy="368.96" r="2.25" fill="none" stroke="#000" stroke-width="1.05"/>
<circle cx="154.60" cy="368.01" r="2.25" fill="none" stroke="#000" stroke-width="1.05"/>
<circle cx="158.20" cy="369.00" r="2.25" fill="none" stroke="#000" stroke-width="1.05"/>
<circle cx="161.80" cy="367.62" r="2.25" fill="none" stroke="#000" stroke-width="1.05"/>
<circle cx="165.40" cy="367.15" r="2.25" fill="none" stroke="#000" stroke-width="1.05"/>
<circle cx="169.00" cy="368.20" r="2.25" fill="none" stroke="#000" stroke-width="1.05"/>
<circle cx="172.60" cy="367.06" r="2.25" fill="none" stroke="#000" stroke-width="1.05"/>
<circle cx="176.20" cy="367.39" r="2.25" fill="none" stroke="#000" stroke-width="1.05"/>
<circle cx="179.80" cy="367.82" r="2.25" fill="none" stroke="#000" stroke-width="1.05"/>
<circle cx="147.40" cy="371.42" r="2.25" fill="none" stroke="#000" stroke-width="1.05"/>
<circle cx="151.00" cy="370.51" r="2.25" fill="none" stroke="#000" stroke-width="1.05"/>
<circle cx="154.60" cy="370.28" r="2.25" fill="none" stroke="#000" stroke-width="1.05"/>
<circle cx="158.20" cy="371.94" r="2.25" fill="none" stroke="#000" stroke-width="1.05"/>
<circle cx="161.80" cy="370.83" r="2.25" fill="none" stroke="#000" stroke-width="1.05"/>
<circle cx="165.40" cy="372.12" r="2.25" fill="none" stroke="#000" stroke-width="1.05"/>
<circle cx="169.00" cy="371.99" r="2.25" fill="none" stroke="#000" stroke-width="1.05"/>
<circle cx="172.60" cy="370.96" r="2.25" fill="none" stroke="#000" stroke-width="1.05"/>
<circle cx="176.20" cy="371.12" r="2.25" fill="none" stroke="#000" stroke-width="1.05"/>
<circle cx="147.00" cy="374.24" r="2.25" fill="none" stroke="#000" stroke-width="1.05"/>
<circle cx="150.70" cy="374.49" r="2.25" fill="none" stroke="#000" stroke-width="1.05"/>
<circle cx="154.40" cy="374.39" r="2.25" fill="none" stroke="#000" stroke-width="1.05"/>
<circle cx="158.10" cy="374.32" r="2.25" fill="none" stroke="#000" stroke-width="1.05"/>
<circle cx="161.80" cy="374.44" r="2.25" fill="none" stroke="#000" stroke-width="1.05"/>
<circle cx="165.50" cy="375.08" r="2.25" fill="none" stroke="#000" stroke-width="1.05"/>
<circle cx="169.20" cy="374.21" r="2.25" fill="none" stroke="#000" stroke-width="1.05"/>
<circle cx="172.90" cy="374.06" r="2.25" fill="none" stroke="#000" stroke-width="1.05"/>
<circle cx="176.60" cy="374.64" r="2.25" fill="none" stroke="#000" stroke-width="1.05"/>
<circle cx="147.00" cy="376.68" r="2.25" fill="none" stroke="#000" stroke-width="1.05"/>
<circle cx="150.70" cy="376.80" r="2.25" fill="none" stroke="#000" stroke-width="1.05"/>
<circle cx="154.40" cy="378.16" r="2.25" fill="none" stroke="#000" stroke-width="1.05"/>
<circle cx="158.10" cy="377.24" r="2.25" fill="none" stroke="#000" stroke-width="1.05"/>
<circle cx="161.80" cy="377.30" r="2.25" fill="none" stroke="#000" stroke-width="1.05"/>
<circle cx="165.50" cy="376.22" r="2.25" fill="none" stroke="#000" stroke-width="1.05"/>
<circle cx="169.20" cy="377.03" r="2.25" fill="none" stroke="#000" stroke-width="1.05"/>
<circle cx="172.90" cy="377.36" r="2.25" fill="none" stroke="#000" stroke-width="1.05"/>
<circle cx="176.60" cy="376.24" r="2.25" fill="none" stroke="#000" stroke-width="1.05"/>
<circle cx="151.00" cy="380.53" r="2.25" fill="none" stroke="#000" stroke-width="1.05"/>
<circle cx="154.60" cy="380.56" r="2.25" fill="none" stroke="#000" stroke-width="1.05"/>
<circle cx="158.20" cy="379.42" r="2.25" fill="none" stroke="#000" stroke-width="1.05"/>
<circle cx="161.80" cy="380.55" r="2.25" fill="none" stroke="#000" stroke-width="1.05"/>
<circle cx="165.40" cy="380.23" r="2.25" fill="none" stroke="#000" stroke-width="1.05"/>
<circle cx="169.00" cy="380.66" r="2.25" fill="none" stroke="#000" stroke-width="1.05"/>
<circle cx="172.60" cy="380.01" r="2.25" fill="none" stroke="#000" stroke-width="1.05"/>
<circle cx="154.20" cy="383.91" r="2.25" fill="none" stroke="#000" stroke-width="1.05"/>
<circle cx="158.00" cy="383.98" r="2.25" fill="none" stroke="#000" stroke-width="1.05"/>
<circle cx="161.80" cy="382.54" r="2.25" fill="none" stroke="#000" stroke-width="1.05"/>
<circle cx="165.60" cy="382.62" r="2.25" fill="none" stroke="#000" stroke-width="1.05"/>
<circle cx="169.40" cy="383.85" r="2.25" fill="none" stroke="#000" stroke-width="1.05"/>
<circle cx="154.00" cy="387.93" r="2.25" fill="none" stroke="#000" stroke-width="1.05"/>
<circle cx="157.90" cy="386.50" r="2.25" fill="none" stroke="#000" stroke-width="1.05"/>
<circle cx="161.80" cy="386.91" r="2.25" fill="none" stroke="#000" stroke-width="1.05"/>
<circle cx="165.70" cy="387.19" r="2.25" fill="none" stroke="#000" stroke-width="1.05"/>
<circle cx="169.60" cy="386.64" r="2.25" fill="none" stroke="#000" stroke-width="1.05"/>
<circle cx="154.90" cy="390.23" r="2.25" fill="none" stroke="#000" stroke-width="1.05"/>
<circle cx="159.50" cy="390.13" r="2.25" fill="none" stroke="#000" stroke-width="1.05"/>
<circle cx="164.10" cy="390.24" r="2.25" fill="none" stroke="#000" stroke-width="1.05"/>
<circle cx="168.70" cy="390.69" r="2.25" fill="none" stroke="#000" stroke-width="1.05"/>
<circle cx="156.30" cy="393.10" r="2.25" fill="none" stroke="#000" stroke-width="1.05"/>
<circle cx="161.80" cy="393.25" r="2.25" fill="none" stroke="#000" stroke-width="1.05"/>
<circle cx="167.30" cy="394.04" r="2.25" fill="none" stroke="#000" stroke-width="1.05"/>
<circle cx="155.80" cy="395.55" r="2.25" fill="none" stroke="#000" stroke-width="1.05"/>
<circle cx="161.80" cy="396.64" r="2.25" fill="none" stroke="#000" stroke-width="1.05"/>
<circle cx="167.80" cy="396.97" r="2.25" fill="none" stroke="#000" stroke-width="1.05"/>
<circle cx="226.50" cy="354.00" r="2.4" fill="none" stroke="#f2a232" stroke-width="1.15"/>
<circle cx="226.50" cy="364.30" r="2.4" fill="none" stroke="#f2a232" stroke-width="1.15"/>
<circle cx="226.70" cy="379.00" r="2.4" fill="none" stroke="#f2a232" stroke-width="1.15"/>
<circle cx="221.60" cy="385.20" r="2.4" fill="none" stroke="#f2a232" stroke-width="1.15"/>
<circle cx="231.80" cy="385.20" r="2.4" fill="none" stroke="#f2a232" stroke-width="1.15"/>
<circle cx="235.50" cy="388.10" r="2.4" fill="none" stroke="#f2a232" stroke-width="1.15"/>
<circle cx="207.00" cy="391.40" r="2.4" fill="none" stroke="#f2a232" stroke-width="1.15"/>
<circle cx="210.30" cy="392.20" r="2.4" fill="none" stroke="#f2a232" stroke-width="1.15"/>
<circle cx="212.50" cy="392.50" r="2.4" fill="none" stroke="#f2a232" stroke-width="1.15"/>
<circle cx="215.80" cy="392.50" r="2.4" fill="none" stroke="#f2a232" stroke-width="1.15"/>
<circle cx="221.60" cy="396.20" r="2.4" fill="none" stroke="#f2a232" stroke-width="1.15"/>
<circle cx="224.20" cy="392.20" r="2.4" fill="none" stroke="#f2a232" stroke-width="1.15"/>
<circle cx="230.00" cy="394.00" r="2.4" fill="none" stroke="#f2a232" stroke-width="1.15"/>
<circle cx="232.90" cy="394.00" r="2.4" fill="none" stroke="#f2a232" stroke-width="1.15"/>
<circle cx="235.80" cy="393.60" r="2.4" fill="none" stroke="#f2a232" stroke-width="1.15"/>
<circle cx="238.80" cy="393.60" r="2.4" fill="none" stroke="#f2a232" stroke-width="1.15"/>
<circle cx="241.70" cy="393.60" r="2.4" fill="none" stroke="#f2a232" stroke-width="1.15"/>
<circle cx="246.80" cy="391.00" r="2.4" fill="none" stroke="#f2a232" stroke-width="1.15"/>
<circle cx="226.70" cy="403.10" r="2.4" fill="none" stroke="#f2a232" stroke-width="1.15"/>
<line x1="96.50" y1="317.50" x2="96.50" y2="362.50" stroke="rgba(0,0,0,0.68)" stroke-width="1.25" />
<line x1="74.80" y1="339.50" x2="118.20" y2="339.50" stroke="rgba(0,0,0,0.85)" stroke-width="1.1" />
<line x1="85.30" y1="317.50" x2="107.70" y2="317.50" stroke="rgba(0,0,0,0.85)" stroke-width="1.1" />
<line x1="85.30" y1="362.50" x2="107.70" y2="362.50" stroke="rgba(0,0,0,0.85)" stroke-width="1.1" />
<line x1="161.50" y1="329.50" x2="161.50" y2="383.50" stroke="rgba(0,0,0,0.68)" stroke-width="1.25" />
<line x1="140.00" y1="356.50" x2="183.00" y2="356.50" stroke="rgba(0,0,0,0.85)" stroke-width="1.1" />
<line x1="150.10" y1="329.50" x2="172.90" y2="329.50" stroke="rgba(0,0,0,0.85)" stroke-width="1.1" />
<line x1="150.10" y1="383.50" x2="172.90" y2="383.50" stroke="rgba(0,0,0,0.85)" stroke-width="1.1" />
<line x1="226.50" y1="376.50" x2="226.50" y2="400.50" stroke="rgba(0,0,0,0.68)" stroke-width="1.25" />
<line x1="205.10" y1="388.50" x2="247.90" y2="388.50" stroke="rgba(0,0,0,0.85)" stroke-width="1.1" />
<line x1="215.45" y1="376.50" x2="237.55" y2="376.50" stroke="rgba(0,0,0,0.85)" stroke-width="1.1" />
<line x1="215.45" y1="400.50" x2="237.55" y2="400.50" stroke="rgba(0,0,0,0.85)" stroke-width="1.1" />
<text x="318.40" y="280.20" font-size="10.2" font-weight="normal" text-anchor="start" fill="#000" stroke="#000" stroke-width="0.14" >D</text>
<line x1="322.80" y1="289.70" x2="322.80" y2="456.90" stroke="#000" stroke-width="1.4" />
<line x1="317.40" y1="456.20" x2="322.80" y2="456.20" stroke="#000" stroke-width="1.3" />
<text x="316.40" y="459.05" font-size="7.2" font-weight="bold" text-anchor="end" fill="#000" stroke="#000" stroke-width="0.1" >0</text>
<line x1="317.40" y1="423.02" x2="322.80" y2="423.02" stroke="#000" stroke-width="1.3" />
<text x="316.40" y="425.87" font-size="7.2" font-weight="bold" text-anchor="end" fill="#000" stroke="#000" stroke-width="0.1" >10</text>
<line x1="317.40" y1="389.84" x2="322.80" y2="389.84" stroke="#000" stroke-width="1.3" />
<text x="316.40" y="392.69" font-size="7.2" font-weight="bold" text-anchor="end" fill="#000" stroke="#000" stroke-width="0.1" >20</text>
<line x1="317.40" y1="356.66" x2="322.80" y2="356.66" stroke="#000" stroke-width="1.3" />
<text x="316.40" y="359.51" font-size="7.2" font-weight="bold" text-anchor="end" fill="#000" stroke="#000" stroke-width="0.1" >30</text>
<line x1="317.40" y1="323.48" x2="322.80" y2="323.48" stroke="#000" stroke-width="1.3" />
<text x="316.40" y="326.33" font-size="7.2" font-weight="bold" text-anchor="end" fill="#000" stroke="#000" stroke-width="0.1" >40</text>
<line x1="317.40" y1="290.30" x2="322.80" y2="290.30" stroke="#000" stroke-width="1.3" />
<text x="316.40" y="293.15" font-size="7.2" font-weight="bold" text-anchor="end" fill="#000" stroke="#000" stroke-width="0.1" >50</text>
<line x1="322.10" y1="456.20" x2="682.20" y2="456.20" stroke="#000" stroke-width="1.4" />
<line x1="338.40" y1="456.20" x2="338.40" y2="461.40" stroke="#000" stroke-width="1.3" />
<line x1="361.81" y1="456.20" x2="361.81" y2="461.40" stroke="#000" stroke-width="1.3" />
<line x1="385.22" y1="456.20" x2="385.22" y2="461.40" stroke="#000" stroke-width="1.3" />
<line x1="408.63" y1="456.20" x2="408.63" y2="461.40" stroke="#000" stroke-width="1.3" />
<line x1="432.04" y1="456.20" x2="432.04" y2="461.40" stroke="#000" stroke-width="1.3" />
<line x1="455.45" y1="456.20" x2="455.45" y2="461.40" stroke="#000" stroke-width="1.3" />
<line x1="478.86" y1="456.20" x2="478.86" y2="461.40" stroke="#000" stroke-width="1.3" />
<line x1="502.27" y1="456.20" x2="502.27" y2="461.40" stroke="#000" stroke-width="1.3" />
<line x1="525.68" y1="456.20" x2="525.68" y2="461.40" stroke="#000" stroke-width="1.3" />
<line x1="549.09" y1="456.20" x2="549.09" y2="461.40" stroke="#000" stroke-width="1.3" />
<line x1="572.50" y1="456.20" x2="572.50" y2="461.40" stroke="#000" stroke-width="1.3" />
<line x1="595.91" y1="456.20" x2="595.91" y2="461.40" stroke="#000" stroke-width="1.3" />
<line x1="619.32" y1="456.20" x2="619.32" y2="461.40" stroke="#000" stroke-width="1.3" />
<line x1="642.73" y1="456.20" x2="642.73" y2="461.40" stroke="#000" stroke-width="1.3" />
<line x1="666.14" y1="456.20" x2="666.14" y2="461.40" stroke="#000" stroke-width="1.3" />
<text x="0.00" y="0.00" font-size="8.0" font-weight="bold" text-anchor="middle" fill="#000" stroke="#000" stroke-width="0.1" transform="translate(299.6,369.5) rotate(-90)">MDW</text>
<text x="0.00" y="0.00" font-size="7.6" font-weight="bold" text-anchor="end" fill="#000" stroke="#000" stroke-width="0.1" transform="translate(337.60,468.50) rotate(-45)">Pre-</text>
<text x="0.00" y="0.00" font-size="7.6" font-weight="bold" text-anchor="end" fill="#000" stroke="#000" stroke-width="0.1" transform="translate(343.72,474.62) rotate(-45)">treatment</text>
<text x="0.00" y="0.00" font-size="7.6" font-weight="bold" text-anchor="end" fill="#000" stroke="#000" stroke-width="0.1" transform="translate(364.01,466.90) rotate(-45)">1</text>
<text x="0.00" y="0.00" font-size="7.6" font-weight="bold" text-anchor="end" fill="#000" stroke="#000" stroke-width="0.1" transform="translate(387.42,466.90) rotate(-45)">2</text>
<text x="0.00" y="0.00" font-size="7.6" font-weight="bold" text-anchor="end" fill="#000" stroke="#000" stroke-width="0.1" transform="translate(410.83,466.90) rotate(-45)">3</text>
<text x="0.00" y="0.00" font-size="7.6" font-weight="bold" text-anchor="end" fill="#000" stroke="#000" stroke-width="0.1" transform="translate(434.24,466.90) rotate(-45)">4</text>
<text x="0.00" y="0.00" font-size="7.6" font-weight="bold" text-anchor="end" fill="#000" stroke="#000" stroke-width="0.1" transform="translate(457.65,466.90) rotate(-45)">5</text>
<text x="0.00" y="0.00" font-size="7.6" font-weight="bold" text-anchor="end" fill="#000" stroke="#000" stroke-width="0.1" transform="translate(481.06,466.90) rotate(-45)">6</text>
<text x="0.00" y="0.00" font-size="7.6" font-weight="bold" text-anchor="end" fill="#000" stroke="#000" stroke-width="0.1" transform="translate(504.47,466.90) rotate(-45)">7</text>
<text x="0.00" y="0.00" font-size="7.6" font-weight="bold" text-anchor="end" fill="#000" stroke="#000" stroke-width="0.1" transform="translate(527.88,466.90) rotate(-45)">8</text>
<text x="0.00" y="0.00" font-size="7.6" font-weight="bold" text-anchor="end" fill="#000" stroke="#000" stroke-width="0.1" transform="translate(551.29,466.90) rotate(-45)">9</text>
<text x="0.00" y="0.00" font-size="7.6" font-weight="bold" text-anchor="end" fill="#000" stroke="#000" stroke-width="0.1" transform="translate(574.70,466.90) rotate(-45)">10</text>
<text x="0.00" y="0.00" font-size="7.6" font-weight="bold" text-anchor="end" fill="#000" stroke="#000" stroke-width="0.1" transform="translate(598.11,466.90) rotate(-45)">11</text>
<text x="0.00" y="0.00" font-size="7.6" font-weight="bold" text-anchor="end" fill="#000" stroke="#000" stroke-width="0.1" transform="translate(621.52,466.90) rotate(-45)">12</text>
<text x="0.00" y="0.00" font-size="7.6" font-weight="bold" text-anchor="end" fill="#000" stroke="#000" stroke-width="0.1" transform="translate(644.93,466.90) rotate(-45)">13</text>
<text x="0.00" y="0.00" font-size="7.6" font-weight="bold" text-anchor="end" fill="#000" stroke="#000" stroke-width="0.1" transform="translate(665.34,468.50) rotate(-45)">Follow</text>
<text x="0.00" y="0.00" font-size="7.6" font-weight="bold" text-anchor="end" fill="#000" stroke="#000" stroke-width="0.1" transform="translate(671.46,474.62) rotate(-45)">up</text>
<path d="M361.6,472.2 L361.6,479.4 L639.1,479.4 L639.1,471.9" fill="none" stroke="#000" stroke-width="1.3"/>
<text x="498.90" y="495.20" font-size="8.33" font-weight="normal" text-anchor="middle" fill="#000" stroke="#000" stroke-width="0.14" >Post IVIG +/- steroid treatment for MIS-C</text>
<path d="M338.40,315.30 L361.81,330.60 L408.63,346.30 L525.68,381.50 L572.50,360.10 L595.91,367.90 L642.73,382.80" fill="none" stroke="#000" stroke-width="1.15"/>
<path d="M338.40,321.60 L361.81,337.50 L385.22,304.50 L408.63,383.50 L455.45,386.90 L478.86,386.90 L666.14,394.00" fill="none" stroke="#000" stroke-width="1.15"/>
<path d="M338.40,340.20 L361.81,339.00 L385.22,316.90 L408.63,391.50 L666.14,399.40" fill="none" stroke="#000" stroke-width="1.15"/>
<path d="M338.40,331.80 L361.81,344.40 L385.22,346.40 L408.63,365.00 L455.45,378.50 L478.86,376.70 L502.27,376.90 L549.09,369.40" fill="none" stroke="#000" stroke-width="1.15"/>
<path d="M338.40,347.10 L361.81,349.00 L385.22,352.20 L408.63,361.00 L432.04,370.50 L455.45,374.00 L502.27,372.30 L525.68,367.10 L595.91,367.90 L666.14,399.40" fill="none" stroke="#000" stroke-width="1.15"/>
<path d="M338.40,347.10 L361.81,353.00 L385.22,353.50 L455.45,400.00 L478.86,398.90 L666.14,399.40" fill="none" stroke="#000" stroke-width="1.15"/>
<path d="M338.40,353.30 L361.81,357.50 L385.22,397.40 L666.14,402.00" fill="none" stroke="#000" stroke-width="1.15"/>
<path d="M338.40,359.80 L361.81,341.00 L525.68,386.80 L666.14,402.00" fill="none" stroke="#000" stroke-width="1.15"/>
<path d="M338.40,366.60 L361.81,367.00 L385.22,374.00 L408.63,397.00 L666.14,396.80" fill="none" stroke="#000" stroke-width="1.15"/>
<path d="M338.40,372.40 L361.81,371.00 L385.22,378.00 L666.14,405.00" fill="none" stroke="#000" stroke-width="1.15"/>
<path d="M338.40,376.30 L361.81,375.00 L385.22,382.00 L666.14,391.20" fill="none" stroke="#000" stroke-width="1.15"/>
<path d="M338.40,382.10 L361.81,379.00 L385.22,386.00 L666.14,408.20" fill="none" stroke="#000" stroke-width="1.15"/>
<path d="M338.40,340.20 L361.81,382.50 L385.22,390.00 L666.14,394.00" fill="none" stroke="#000" stroke-width="1.15"/>
<path d="M338.40,366.60 L361.81,385.80 L385.22,394.00 L666.14,402.00" fill="none" stroke="#000" stroke-width="1.15"/>
<path d="M338.40,347.10 L361.81,325.00 L385.22,369.70 L408.63,363.50 L666.14,396.80" fill="none" stroke="#000" stroke-width="1.15"/>
<path d="M338.40,372.40 L361.81,329.00 L408.63,346.30" fill="none" stroke="#000" stroke-width="1.15"/>
<path d="M338.40,353.30 L361.81,334.00 L385.22,350.00 L408.63,388.00 L666.14,391.20" fill="none" stroke="#000" stroke-width="1.15"/>
<path d="M338.40,331.80 L361.81,321.80 L385.22,346.40" fill="none" stroke="#000" stroke-width="1.15"/>
<path d="M338.40,331.80 L361.81,324.50 L385.22,350.00 L408.63,365.00" fill="none" stroke="#000" stroke-width="1.15"/>
<circle cx="338.40" cy="308.60" r="2.95" fill="#f52a0c" stroke="#000" stroke-width="0.9"/>
<circle cx="338.40" cy="315.30" r="2.95" fill="#f52a0c" stroke="#000" stroke-width="0.9"/>
<circle cx="361.81" cy="330.60" r="3.35" fill="#000"/>
<circle cx="408.63" cy="346.30" r="3.35" fill="#000"/>
<circle cx="525.68" cy="381.50" r="3.35" fill="#000"/>
<circle cx="572.50" cy="360.10" r="3.35" fill="#000"/>
<circle cx="595.91" cy="367.90" r="3.35" fill="#000"/>
<circle cx="642.73" cy="382.80" r="3.35" fill="#000"/>
<circle cx="338.40" cy="321.60" r="2.95" fill="#f52a0c" stroke="#000" stroke-width="0.9"/>
<circle cx="361.81" cy="337.50" r="3.35" fill="#000"/>
<circle cx="385.22" cy="304.50" r="3.35" fill="#000"/>
<circle cx="408.63" cy="383.50" r="3.35" fill="#000"/>
<circle cx="455.45" cy="386.90" r="3.35" fill="#000"/>
<circle cx="478.86" cy="386.90" r="3.35" fill="#000"/>
<circle cx="666.14" cy="394.00" r="2.9" fill="#f8920f" stroke="#5a3a10" stroke-width="0.8"/>
<circle cx="338.40" cy="340.20" r="2.95" fill="#f52a0c" stroke="#000" stroke-width="0.9"/>
<circle cx="361.81" cy="339.00" r="3.35" fill="#000"/>
<circle cx="385.22" cy="316.90" r="3.35" fill="#000"/>
<circle cx="408.63" cy="391.50" r="3.35" fill="#000"/>
<circle cx="666.14" cy="399.40" r="2.9" fill="#f8920f" stroke="#5a3a10" stroke-width="0.8"/>
<circle cx="338.40" cy="331.80" r="2.95" fill="#f52a0c" stroke="#000" stroke-width="0.9"/>
<circle cx="361.81" cy="344.40" r="3.35" fill="#000"/>
<circle cx="385.22" cy="346.40" r="3.35" fill="#000"/>
<circle cx="408.63" cy="365.00" r="3.35" fill="#000"/>
<circle cx="455.45" cy="378.50" r="3.35" fill="#000"/>
<circle cx="478.86" cy="376.70" r="3.35" fill="#000"/>
<circle cx="502.27" cy="376.90" r="3.35" fill="#000"/>
<circle cx="549.09" cy="369.40" r="3.35" fill="#000"/>
<circle cx="338.40" cy="347.10" r="2.95" fill="#f52a0c" stroke="#000" stroke-width="0.9"/>
<circle cx="361.81" cy="349.00" r="3.35" fill="#000"/>
<circle cx="385.22" cy="352.20" r="3.35" fill="#000"/>
<circle cx="408.63" cy="361.00" r="3.35" fill="#000"/>
<circle cx="432.04" cy="370.50" r="3.35" fill="#000"/>
<circle cx="455.45" cy="374.00" r="3.35" fill="#000"/>
<circle cx="502.27" cy="372.30" r="3.35" fill="#000"/>
<circle cx="525.68" cy="367.10" r="3.35" fill="#000"/>
<circle cx="595.91" cy="367.90" r="3.35" fill="#000"/>
<circle cx="666.14" cy="399.40" r="2.9" fill="#f8920f" stroke="#5a3a10" stroke-width="0.8"/>
<circle cx="338.40" cy="347.10" r="2.95" fill="#f52a0c" stroke="#000" stroke-width="0.9"/>
<circle cx="361.81" cy="353.00" r="3.35" fill="#000"/>
<circle cx="385.22" cy="353.50" r="3.35" fill="#000"/>
<circle cx="455.45" cy="400.00" r="3.35" fill="#000"/>
<circle cx="478.86" cy="398.90" r="3.35" fill="#000"/>
<circle cx="666.14" cy="399.40" r="2.9" fill="#f8920f" stroke="#5a3a10" stroke-width="0.8"/>
<circle cx="338.40" cy="353.30" r="2.95" fill="#f52a0c" stroke="#000" stroke-width="0.9"/>
<circle cx="361.81" cy="357.50" r="3.35" fill="#000"/>
<circle cx="385.22" cy="397.40" r="3.35" fill="#000"/>
<circle cx="666.14" cy="402.00" r="2.9" fill="#f8920f" stroke="#5a3a10" stroke-width="0.8"/>
<circle cx="338.40" cy="359.80" r="2.95" fill="#f52a0c" stroke="#000" stroke-width="0.9"/>
<circle cx="361.81" cy="341.00" r="3.35" fill="#000"/>
<circle cx="525.68" cy="386.80" r="3.35" fill="#000"/>
<circle cx="666.14" cy="402.00" r="2.9" fill="#f8920f" stroke="#5a3a10" stroke-width="0.8"/>
<circle cx="338.40" cy="366.60" r="2.95" fill="#f52a0c" stroke="#000" stroke-width="0.9"/>
<circle cx="361.81" cy="367.00" r="3.35" fill="#000"/>
<circle cx="385.22" cy="374.00" r="3.35" fill="#000"/>
<circle cx="408.63" cy="397.00" r="3.35" fill="#000"/>
<circle cx="666.14" cy="396.80" r="2.9" fill="#f8920f" stroke="#5a3a10" stroke-width="0.8"/>
<circle cx="338.40" cy="372.40" r="2.95" fill="#f52a0c" stroke="#000" stroke-width="0.9"/>
<circle cx="361.81" cy="371.00" r="3.35" fill="#000"/>
<circle cx="385.22" cy="378.00" r="3.35" fill="#000"/>
<circle cx="666.14" cy="405.00" r="2.9" fill="#f8920f" stroke="#5a3a10" stroke-width="0.8"/>
<circle cx="338.40" cy="376.30" r="2.95" fill="#f52a0c" stroke="#000" stroke-width="0.9"/>
<circle cx="361.81" cy="375.00" r="3.35" fill="#000"/>
<circle cx="385.22" cy="382.00" r="3.35" fill="#000"/>
<circle cx="666.14" cy="391.20" r="2.9" fill="#f8920f" stroke="#5a3a10" stroke-width="0.8"/>
<circle cx="338.40" cy="382.10" r="2.95" fill="#f52a0c" stroke="#000" stroke-width="0.9"/>
<circle cx="361.81" cy="379.00" r="3.35" fill="#000"/>
<circle cx="385.22" cy="386.00" r="3.35" fill="#000"/>
<circle cx="666.14" cy="408.20" r="2.9" fill="#f8920f" stroke="#5a3a10" stroke-width="0.8"/>
<circle cx="338.40" cy="340.20" r="2.95" fill="#f52a0c" stroke="#000" stroke-width="0.9"/>
<circle cx="361.81" cy="382.50" r="3.35" fill="#000"/>
<circle cx="385.22" cy="390.00" r="3.35" fill="#000"/>
<circle cx="666.14" cy="394.00" r="2.9" fill="#f8920f" stroke="#5a3a10" stroke-width="0.8"/>
<circle cx="338.40" cy="366.60" r="2.95" fill="#f52a0c" stroke="#000" stroke-width="0.9"/>
<circle cx="361.81" cy="385.80" r="3.35" fill="#000"/>
<circle cx="385.22" cy="394.00" r="3.35" fill="#000"/>
<circle cx="666.14" cy="402.00" r="2.9" fill="#f8920f" stroke="#5a3a10" stroke-width="0.8"/>
<circle cx="338.40" cy="347.10" r="2.95" fill="#f52a0c" stroke="#000" stroke-width="0.9"/>
<circle cx="361.81" cy="325.00" r="3.35" fill="#000"/>
<circle cx="385.22" cy="369.70" r="3.35" fill="#000"/>
<circle cx="408.63" cy="363.50" r="3.35" fill="#000"/>
<circle cx="666.14" cy="396.80" r="2.9" fill="#f8920f" stroke="#5a3a10" stroke-width="0.8"/>
<circle cx="338.40" cy="372.40" r="2.95" fill="#f52a0c" stroke="#000" stroke-width="0.9"/>
<circle cx="361.81" cy="329.00" r="3.35" fill="#000"/>
<circle cx="408.63" cy="346.30" r="3.35" fill="#000"/>
<circle cx="338.40" cy="353.30" r="2.95" fill="#f52a0c" stroke="#000" stroke-width="0.9"/>
<circle cx="361.81" cy="334.00" r="3.35" fill="#000"/>
<circle cx="385.22" cy="350.00" r="3.35" fill="#000"/>
<circle cx="408.63" cy="388.00" r="3.35" fill="#000"/>
<circle cx="666.14" cy="391.20" r="2.9" fill="#f8920f" stroke="#5a3a10" stroke-width="0.8"/>
<circle cx="338.40" cy="331.80" r="2.95" fill="#f52a0c" stroke="#000" stroke-width="0.9"/>
<circle cx="361.81" cy="321.80" r="3.35" fill="#000"/>
<circle cx="385.22" cy="346.40" r="3.35" fill="#000"/>
<circle cx="338.40" cy="331.80" r="2.95" fill="#f52a0c" stroke="#000" stroke-width="0.9"/>
<circle cx="361.81" cy="324.50" r="3.35" fill="#000"/>
<circle cx="385.22" cy="350.00" r="3.35" fill="#000"/>
<circle cx="408.63" cy="365.00" r="3.35" fill="#000"/>
</svg>
</body></html>
